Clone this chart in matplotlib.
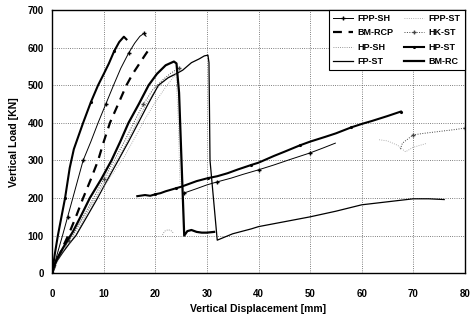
import numpy as np
from matplotlib import pyplot as plt

nan = np.nan

# HP-ST : steepest curve, then post-failure branch starting near 200 kN
hpst_x = [0, 0.5, 1.1, 1.8, 2.5, 3.4, 4.2, 6, 7.5, 8.9, 10, 11, 12, 13, 13.9, 14.4, nan,
          16.5, 18, 19, 20, 21, 22, 23, 24, 25, 26, 28, 30.2, 32, 34, 36, 38.6, 40, 43, 45, 48, 50,
          53, 55, 58, 60, 62, 65, 67.6]
hpst_y = [0, 50, 100, 150, 200, 280, 330, 400, 455, 500, 530, 558, 590, 615, 629, 622, nan,
          205, 208, 206, 210, 213, 218, 222, 226, 230, 235, 245, 253, 258, 266, 276, 288, 294, 312, 323, 340, 350,
          363, 372, 388, 397, 405, 418, 430]

# FPP-SH
fppsh_x = [0, 1, 2, 3, 4, 5, 6, 7.5, 8.9, 10.4, 11.9, 13.3, 14.8, 16, 17, 17.8, 18.2, nan,
           25.5, 28, 30, 32, 34.7, 37, 40, 43, 46, 50, 52.5, 54.9]
fppsh_y = [0, 52, 100, 150, 200, 250, 300, 350, 400, 450, 500, 545, 585, 612, 630, 638, 630, nan,
           213, 225, 235, 243, 253, 263, 275, 288, 302, 320, 333, 346]

# BM-RCP
bmrcp_x = [0, 1, 2, 3.1, 4.6, 6, 7.5, 8.9, 10, 11.2, 12.8, 14.4, 15.6, 16.8, 18, 19, 19.4]
bmrcp_y = [0, 35, 68, 100, 150, 200, 250, 300, 350, 400, 450, 500, 530, 555, 580, 600, 598]

# BM-RC
bmrc_x = [0, 0.3, 1, 2, 3, 4, 5.5, 7.3, 9.5, 11.5, 13.2, 14.8, 16.8, 18.7, 20.3, 22, 23.6, 24.1,
          24.6, 25.2, 25.6, 26.2, 27, 28, 29, 30, 31.4]
bmrc_y = [0, 18, 40, 65, 88, 110, 150, 200, 250, 300, 350, 400, 450, 500, 530, 553, 563, 558,
          480, 250, 100, 112, 115, 110, 108, 108, 110]

# FP-ST
fpst_x = [0, 0.3, 1, 2.2, 3.4, 4.6, 6.5, 8.6, 10.7, 12.8, 14.8, 16.7, 18.6, 20.6, 22.5, 24, 25.3, 27,
          28.5, 29.5, 30.2, 30.4, 30.6, 32, 35, 38.6, 40, 45, 50, 55, 60, 65, 70, 73, 76]
fpst_y = [0, 14, 34, 58, 80, 100, 145, 195, 248, 300, 350, 400, 450, 500, 520, 530, 540, 560,
          570, 578, 580, 560, 300, 88, 105, 118, 124, 137, 150, 165, 182, 190, 198, 198, 196]

# HK-ST
hkst_x = [0, 0.3, 1, 2.1, 3.2, 4.3, 6, 8, 10, 12, 14, 15.8, 17.7, 19.6, 21.5, 23, 24.5, nan,
          67.5, 67.9, 70, 72, 75, 78, 80]
hkst_y = [0, 16, 37, 62, 85, 107, 150, 200, 250, 300, 350, 400, 450, 490, 515, 532, 545, nan,
          330, 346, 368, 372, 377, 382, 386]

# HP-SH
hpsh_x = [0, 0.3, 1, 2.2, 3.4, 4.5, 6.3, 8.3, 10.4, 12.5, 14.5, 16.3, 18.2, 20.2, 22, 23.5, 24.5, nan,
          21.4, 21.8, 22.5, 23.2, 23.6]
hpsh_y = [0, 15, 35, 60, 82, 102, 148, 198, 250, 300, 350, 400, 450, 490, 515, 530, 538, nan,
          102, 112, 116, 112, 105]

# FPP-ST
fppst_x = [0, 1, 2.5, 4.5, 6.5, 9, 11.5, 14, 16, 18, 20, 22, 24, 24.4, 24.8, nan,
           63.4, 65, 67, 68.5, 70, 72.5]
fppst_y = [0, 30, 70, 115, 160, 210, 260, 310, 360, 410, 455, 495, 530, 420, 235, nan,
           355, 352, 340, 323, 335, 345]

plt.rcParams['font.family'] = ['Liberation Sans', 'DejaVu Sans']
plt.rcParams['font.weight'] = 'bold'

fig = plt.figure(figsize=(4.7, 3.23), dpi=100)
ax = fig.add_axes([0.111, 0.154, 0.878, 0.815])

# order so legend reads column-wise like the original
ax.plot(fppsh_x, fppsh_y, color='black', lw=0.7, marker='+', ms=2.5, markevery=3, label='FPP-SH')
ax.plot(bmrcp_x, bmrcp_y, color='black', lw=1.6, linestyle=(0, (4, 3)), label='BM-RCP')
ax.plot(hpsh_x, hpsh_y, color='#777777', lw=0.6, linestyle=':', label='HP-SH')
ax.plot(fpst_x, fpst_y, color='black', lw=0.9, label='FP-ST')
ax.plot(fppst_x, fppst_y, color='#999999', lw=0.6, linestyle=':', label='FPP-ST')
ax.plot(hkst_x, hkst_y, color='#444444', lw=0.7, linestyle=(0, (1, 1.5)), marker='+', ms=2.5, markevery=4, label='HK-ST')
ax.plot(hpst_x, hpst_y, color='black', lw=1.5, marker='.', ms=2.5, markevery=4, label='HP-ST')
ax.plot(bmrc_x, bmrc_y, color='black', lw=1.6, label='BM-RC')

ax.set_xlim(0, 80)
ax.set_ylim(0, 700)
ax.set_xticks(range(0, 81, 10))
ax.set_yticks(range(0, 701, 100))
ax.grid(True, color='#555555', linestyle=':', linewidth=0.6)
ax.tick_params(length=0, labelsize=7)
ax.tick_params(axis='x', pad=11)
ax.tick_params(axis='y', pad=6)
for s in ax.spines.values():
    s.set_linewidth(1.0)

ax.set_xlabel('Vertical Displacement [mm]', fontsize=7.5, fontweight='bold', labelpad=4)
ax.set_ylabel('Vertical Load [KN]', fontsize=7.5, fontweight='bold', labelpad=6)

leg = ax.legend(loc='upper right', ncol=2, fontsize=6.5, fancybox=False, borderaxespad=0,
                handlelength=2.2, columnspacing=1.2, labelspacing=0.6, borderpad=0.45,
                handletextpad=0.5, framealpha=1)
leg.get_frame().set_edgecolor('black')
leg.get_frame().set_linewidth(0.8)

plt.savefig('out.png', dpi=100)
